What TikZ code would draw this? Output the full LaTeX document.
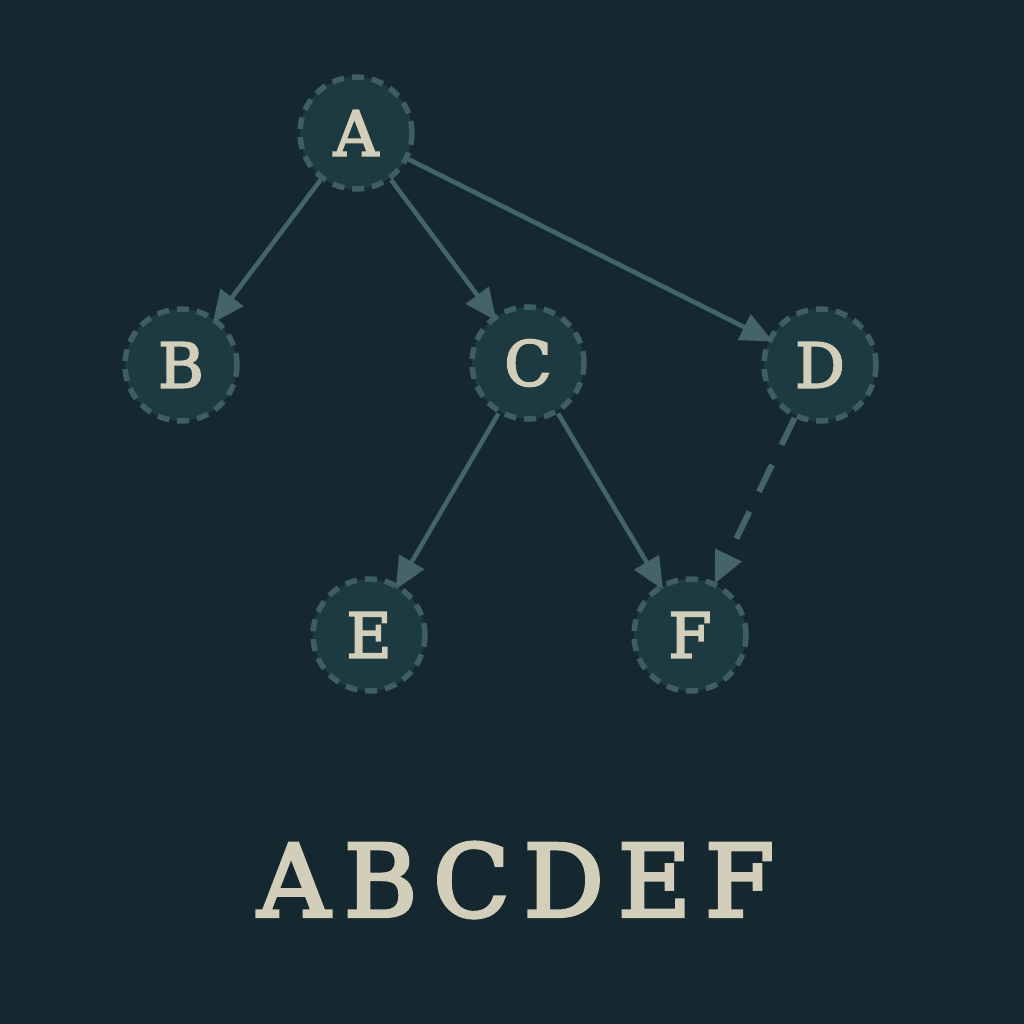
\documentclass[tikz,border=0pt]{standalone}
\usepackage{fontspec}
\setmainfont{DejaVu Serif}
\newfontfamily\nodefont[FakeBold=3]{DejaVu Serif}
\newfontfamily\spacedfont[LetterSpace=14,FakeBold=3.5]{DejaVu Serif}
\usetikzlibrary{arrows.meta}
\definecolor{bgc}{HTML}{15272F}
\definecolor{nodefill}{HTML}{1D3A40}
\definecolor{ringc}{HTML}{3F5E60}
\definecolor{edgec}{HTML}{45646A}
\definecolor{txtc}{HTML}{D2CEBA}
\tikzset{
  vtx/.style={circle, minimum size=112pt, inner sep=0pt, fill=nodefill, draw=ringc,
    line width=5.5pt, dash pattern=on 12pt off 8pt, text=txtc,
    font=\nodefont\fontsize{62}{68}\selectfont},
  edge/.style={draw=edgec, line width=4.5pt, -{Triangle[length=32pt,width=28pt]}, shorten >=-6pt},
  dedge/.style={edge, line width=6pt, dash pattern=on 30pt off 22pt, shorten >=-2pt}
}
\begin{document}
\begin{tikzpicture}[x=1pt,y=-1pt]
\fill[bgc] (0,0) rectangle (1024,1024);
\useasboundingbox (0,0) rectangle (1024,1024);
\node[vtx] (A) at (356,133) {A};
\node[vtx] (B) at (181,365) {B};
\node[vtx] (C) at (528,363) {C};
\node[vtx] (D) at (820,365) {D};
\node[vtx] (E) at (369,635) {E};
\node[vtx] (F) at (690,635) {F};
\draw[edge] (A) -- (B);
\draw[edge] (A) -- (C);
\draw[edge] (A) -- (D);
\draw[edge] (C) -- (E);
\draw[edge] (C) -- (F);
\draw[dedge] (D) -- (F);
\node[text=txtc, font=\spacedfont\fontsize{100}{110}\selectfont] (word) at (516,880) {ABCDEF};
\end{tikzpicture}
\end{document}
